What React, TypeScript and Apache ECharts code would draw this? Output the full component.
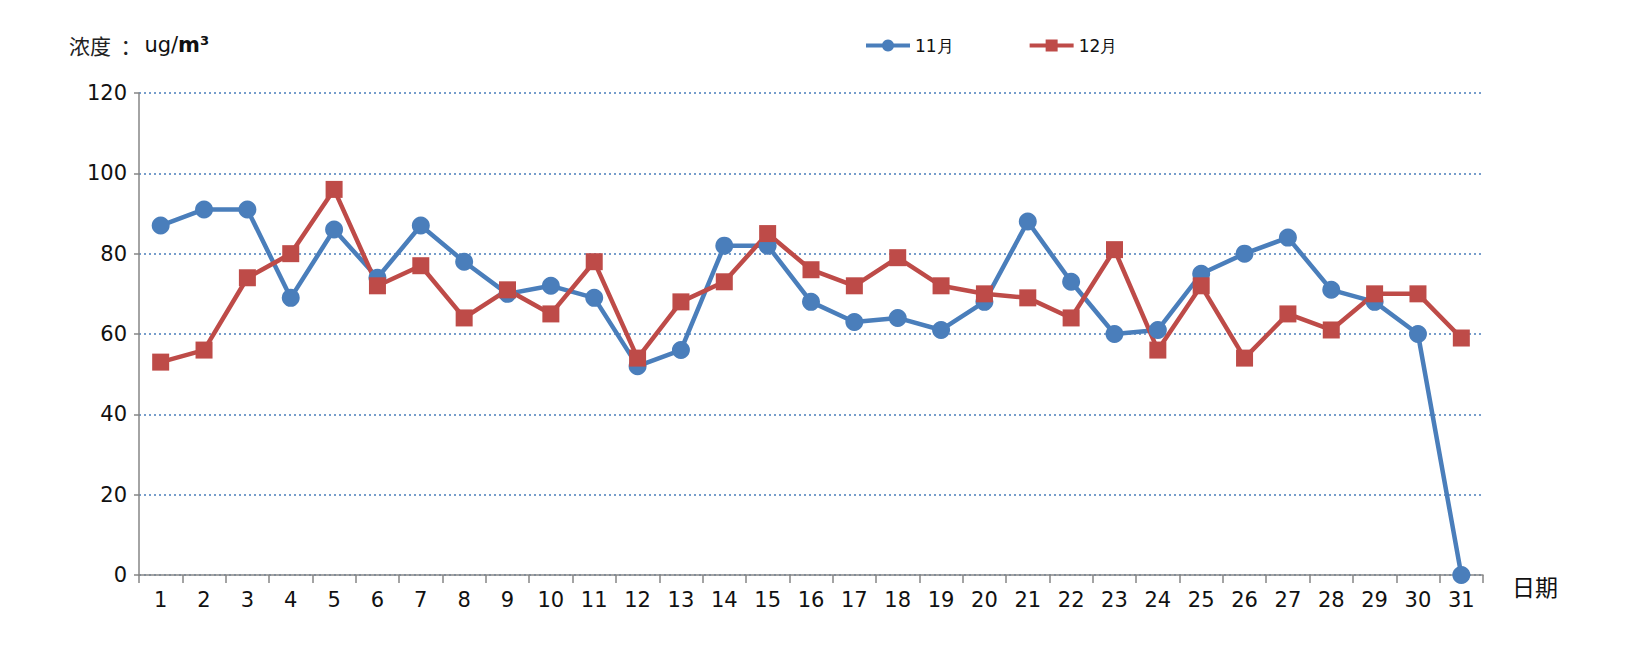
import React, { useEffect, useRef } from "react";
import * as echarts from "echarts";

const days = Array.from({ length: 31 }, (_, i) => String(i + 1));
const nov = [87, 91, 91, 69, 86, 74, 87, 78, 70, 72, 69, 52, 56, 82, 82, 68, 63, 64, 61, 68, 88, 73, 60, 61, 75, 80, 84, 71, 68, 60, 0];
const dec = [53, 56, 74, 80, 96, 72, 77, 64, 71, 65, 78, 54, 68, 73, 85, 76, 72, 79, 72, 70, 69, 64, 81, 56, 72, 54, 65, 61, 70, 70, 59];
const seriesNames = ["11月", "12月"];

const FONT = "DejaVu Sans";

export default function App() {
  const ref = useRef<HTMLDivElement>(null);
  useEffect(() => {
    const chart = echarts.init(ref.current!, null, { renderer: "svg" });
    chart.setOption({
      animation: false,
      textStyle: { fontFamily: FONT },
      title: {
        left: 56,
        top: 21,
        text: "{a|浓度  ：}{b|ug/}{c|m³}",
        textStyle: {
          fontWeight: "normal",
          rich: {
            a: { fontFamily: "Noto Sans CJK SC", fontSize: 21, fontWeight: "normal", color: "#222", padding: [0, 3, 0, 0] },
            b: { fontFamily: FONT, fontSize: 21, fontWeight: "normal", color: "#111" },
            c: { fontFamily: FONT, fontSize: 21, fontWeight: "bold", color: "#111" },
          },
        },
      },
      legend: {
        top: 24,
        left: 851,
        itemWidth: 44,
        itemHeight: 15,
        itemGap: 74,
        lineStyle: { width: 4 },
        textStyle: { fontFamily: FONT, fontSize: 17, color: "#111" },
        data: seriesNames,
      },
      grid: { left: 131, right: 146, top: 85, bottom: 67 },
      xAxis: {
        type: "category",
        data: days,
        boundaryGap: true,
        name: "日期",
        nameLocation: "end",
        nameGap: 29,
        nameTextStyle: { fontFamily: "Noto Sans CJK SC", fontSize: 23, color: "#111", verticalAlign: "top", padding: [-1, 0, 0, 0] },
        axisLine: { lineStyle: { color: "#868686", width: 1.5 } },
        axisTick: { show: true, alignWithLabel: false, length: 8, lineStyle: { color: "#868686", width: 1.5 } },
        axisLabel: { fontSize: 21, color: "#111", margin: 14, interval: 0 },
        splitLine: { show: false },
      },
      yAxis: {
        type: "value",
        min: 0,
        max: 120,
        interval: 20,
        axisLine: { show: true, lineStyle: { color: "#868686", width: 1.5 } },
        axisTick: { show: true, length: 5, lineStyle: { color: "#868686", width: 1.5 } },
        axisLabel: { fontSize: 21, color: "#111", margin: 12 },
        splitLine: { show: true, lineStyle: { color: "#4a7ebb", type: [2, 3], width: 1.5 } },
      },
      series: [
        {
          name: seriesNames[0],
          type: "line",
          data: nov,
          symbol: "circle",
          symbolSize: 18,
          lineStyle: { color: "#4a7ebb", width: 4.5 },
          itemStyle: { color: "#4a7ebb" },
        },
        {
          name: seriesNames[1],
          type: "line",
          data: dec,
          symbol: "rect",
          symbolSize: 17,
          lineStyle: { color: "#be4b48", width: 4.5 },
          itemStyle: { color: "#be4b48" },
        },
      ],
    });
    return () => chart.dispose();
  }, []);
  return <div ref={ref} style={{ width: 1621, height: 634 }} />;
}
